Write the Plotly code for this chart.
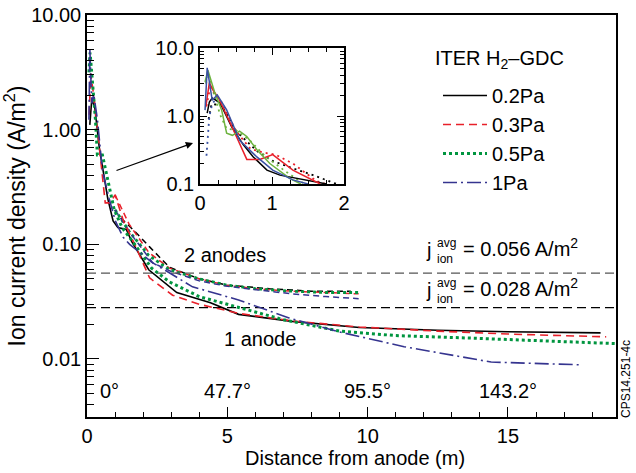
import plotly.graph_objects as go

# ---------------- data ----------------
pressures = ["0.2Pa", "0.3Pa", "0.5Pa", "1Pa"]

# main plot, 1 anode
x_a1_black = [0.10, 0.17, 0.28, 0.44, 0.74, 0.93, 1.1, 1.4, 1.6, 2.2, 3.2, 4.4, 5.4, 7.3, 9.7, 12.5, 15.0, 18.3]
y_a1_black = [1.1, 1.84, 1.55, 0.69, 0.25, 0.16, 0.14, 0.135, 0.105, 0.060, 0.038, 0.031, 0.0245, 0.0213, 0.0188, 0.0178, 0.0173, 0.0169]
x_a1_red = [0.08, 0.13, 0.25, 0.42, 0.65, 0.83, 1.0, 1.3, 1.7, 2.23, 3.05, 4.0, 5.4, 7.3, 9.7, 12.5, 15.0, 18.5]
y_a1_red = [1.35, 3.1, 1.9, 0.79, 0.23, 0.23, 0.27, 0.16, 0.10, 0.051, 0.036, 0.030, 0.025, 0.0215, 0.019, 0.0175, 0.0165, 0.0156]
x_a1_green = [0.07, 0.11, 0.3, 0.37, 0.55, 0.79, 0.97, 1.25, 1.7, 2.3, 2.94, 4.0, 5.4, 7.0, 9.0, 11.0, 13.7, 16.0, 18.9]
y_a1_green = [3.16, 4.7, 1.23, 0.6, 0.6, 0.32, 0.2, 0.14, 0.1, 0.062, 0.047, 0.035, 0.028, 0.022, 0.0175, 0.016, 0.0152, 0.0144, 0.0136]
x_a1_blue = [0.07, 0.10, 0.17, 0.24, 0.37, 0.55, 0.79, 1.01, 1.29, 1.52, 2.3, 3.76, 5.4, 7.2, 9.0, 11.3, 14.4, 17.55]
y_a1_blue = [1.22, 5.1, 1.7, 2.04, 1.23, 0.44, 0.25, 0.16, 0.115, 0.10, 0.07, 0.0426, 0.0327, 0.0228, 0.0172, 0.0128, 0.0094, 0.0089]

# main plot, 2 anodes
x_a2_black = [1.2, 1.7, 2.23, 2.94, 4.0, 5.0, 6.5, 8.0, 9.4]
y_a2_black = [0.17, 0.13, 0.095, 0.063, 0.05, 0.044, 0.041, 0.039, 0.039]
x_a2_red = [1.0, 1.5, 2.2, 2.94, 4.0, 4.96, 6.0, 7.3, 8.5, 9.68]
y_a2_red = [0.27, 0.15, 0.085, 0.062, 0.05, 0.044, 0.041, 0.039, 0.038, 0.037]
x_a2_green = [1.0, 1.5, 2.2, 2.94, 4.0, 5.0, 6.0, 7.3, 8.5, 9.68]
y_a2_green = [0.2, 0.13, 0.08, 0.06, 0.05, 0.044, 0.041, 0.039, 0.038, 0.038]
x_a2_blue = [1.0, 1.6, 2.34, 3.0, 4.0, 5.0, 6.1, 7.3, 8.5, 9.68]
y_a2_blue = [0.2, 0.12, 0.069, 0.058, 0.048, 0.043, 0.040, 0.037, 0.035, 0.0336]

# average current density levels
j_avg_levels = [0.056, 0.028]
j_avg_labels = ["0.056", "0.028"]

# inset, solid
ins_x_black = [0.10, 0.13, 0.17, 0.28, 0.44, 0.6, 0.74, 0.93, 1.11, 1.43, 1.76]
ins_y_black = [1.1, 1.6, 1.84, 1.55, 0.69, 0.38, 0.25, 0.16, 0.135, 0.115, 0.1]
ins_x_red = [0.08, 0.13, 0.18, 0.25, 0.42, 0.55, 0.65, 0.83, 1.01, 1.29, 1.67]
ins_y_red = [1.35, 3.1, 2.4, 1.9, 0.79, 0.4, 0.23, 0.23, 0.27, 0.16, 0.1]
ins_x_green = [0.07, 0.11, 0.2, 0.3, 0.37, 0.45, 0.55, 0.65, 0.79, 0.97, 1.25, 1.4]
ins_y_green = [3.16, 4.7, 2.3, 1.23, 0.56, 0.52, 0.6, 0.5, 0.32, 0.2, 0.12, 0.1]
ins_x_blue = [0.07, 0.10, 0.17, 0.24, 0.37, 0.55, 0.79, 1.01, 1.29, 1.5]
ins_y_blue = [1.22, 5.1, 1.7, 2.04, 1.23, 0.44, 0.25, 0.16, 0.115, 0.1]

# inset, dotted
ins_xd_black = [0.12, 0.16, 0.3, 0.5, 0.8, 1.0, 1.29, 1.57, 1.9]
ins_yd_black = [0.9, 1.5, 1.45, 0.6, 0.3, 0.22, 0.17, 0.135, 0.1]
ins_xd_red = [0.09, 0.14, 0.3, 0.5, 0.7, 0.88, 1.05, 1.29, 1.62, 1.75]
ins_yd_red = [1.4, 2.6, 1.6, 0.6, 0.33, 0.29, 0.27, 0.2, 0.11, 0.1]
ins_xd_green = [0.08, 0.12, 0.2, 0.28, 0.37, 0.5, 0.69, 0.9, 1.2, 1.45]
ins_yd_green = [3.0, 3.8, 2.0, 1.04, 0.65, 0.62, 0.44, 0.26, 0.15, 0.1]
ins_xd_blue = [0.09, 0.11, 0.13, 0.17, 0.24, 0.37]
ins_yd_blue = [0.26, 0.6, 1.0, 1.5, 1.9, 1.2]

angle_labels = ["0°", "47.7°", "95.5°", "143.2°"]
angle_x = [0.8, 5, 10, 15]

main_yticks = [0.01, 0.1, 1, 10]
main_yticktext = ["0.01", "0.10", "1.00", "10.00"]
inset_yticks = [0.1, 1, 10]
inset_yticktext = ["0.1", "1.0", "10.0"]

# ---------------- styles ----------------
FONT = "Liberation Sans, Arial, sans-serif"
C_BLACK, C_RED, C_GREEN, C_BLUE = "#000000", "#e8202a", "#00953f", "#35348f"
CI_GREEN, CI_BLUE = "#6db33f", "#3a52a3"
styles = [
    dict(color=C_BLACK, width=1.6, dash="solid"),
    dict(color=C_RED, width=1.6, dash="8px,5px"),
    dict(color=C_GREEN, width=3, dash="3px,3px"),
    dict(color=C_BLUE, width=1.6, dash="14px,4px,2px,4px"),
]
a2_styles = [
    dict(color=C_BLACK, width=1.5, dash="6px,4px"),
    dict(color=C_RED, width=1.5, dash="6px,4px"),
    dict(color=C_GREEN, width=2.8, dash="3px,3px"),
    dict(color=C_BLUE, width=1.5, dash="6px,4px"),
]

fig = go.Figure()

a1 = [(x_a1_black, y_a1_black), (x_a1_red, y_a1_red), (x_a1_green, y_a1_green), (x_a1_blue, y_a1_blue)]
a2 = [(x_a2_black, y_a2_black), (x_a2_red, y_a2_red), (x_a2_green, y_a2_green), (x_a2_blue, y_a2_blue)]

for i, (xs, ys) in enumerate(a2):
    fig.add_trace(go.Scatter(x=xs, y=ys, mode="lines", line=a2_styles[i], showlegend=False, hoverinfo="skip"))

for (lvl, col) in zip(j_avg_levels, ["#555555", "#000000"]):
    fig.add_trace(go.Scatter(x=[0, 18.8], y=[lvl, lvl], mode="lines",
                             line=dict(color=col, width=1.2, dash="9px,5px"),
                             showlegend=False, hoverinfo="skip"))

for i, (xs, ys) in enumerate(a1):
    fig.add_trace(go.Scatter(x=xs, y=ys, mode="lines", line=styles[i], name=pressures[i],
                             showlegend=True))

ins_solid = [(ins_x_black, ins_y_black, C_BLACK), (ins_x_red, ins_y_red, C_RED),
             (ins_x_green, ins_y_green, CI_GREEN), (ins_x_blue, ins_y_blue, CI_BLUE)]
ins_dot = [(ins_xd_black, ins_yd_black, C_BLACK), (ins_xd_red, ins_yd_red, C_RED),
           (ins_xd_green, ins_yd_green, CI_GREEN), (ins_xd_blue, ins_yd_blue, CI_BLUE)]
for xs, ys, c in ins_dot:
    fig.add_trace(go.Scatter(x=xs, y=ys, mode="lines", xaxis="x2", yaxis="y2",
                             line=dict(color=c, width=1.8, dash="2px,4px"), showlegend=False, hoverinfo="skip"))
for xs, ys, c in ins_solid:
    fig.add_trace(go.Scatter(x=xs, y=ys, mode="lines", xaxis="x2", yaxis="y2",
                             line=dict(color=c, width=1.5), showlegend=False, hoverinfo="skip"))

# minor tick positions
main_minor = [m * 10 ** e for e in range(-3, 1) for m in range(2, 10)]
main_minor = [v for v in main_minor if 0.0031 <= v <= 10]
inset_minor = [m * 10 ** e for e in range(-1, 1) for m in range(2, 10)]

W, H = 636, 473
L, R, T, B = 87, 20, 15, 56
PW, PH = W - L - R, H - T - B


def px(xp):
    return (xp - L) / PW


def py(yp):
    return (H - B - yp) / PH


tickfont = dict(family=FONT, size=20, color="black")

fig.update_layout(
    width=W, height=H, autosize=False,
    margin=dict(l=L, r=R, t=T, b=B, autoexpand=False),
    paper_bgcolor="white", plot_bgcolor="white",
    font=dict(family=FONT, size=20, color="black"),
    xaxis=dict(range=[0, 18.85], showgrid=False, zeroline=False, automargin=False,
               showline=True, linecolor="black", linewidth=1.5, mirror=True,
               ticks="inside", ticklen=10, tickwidth=1.2, tickcolor="black",
               tickvals=[0, 5, 10, 15], tickfont=tickfont,
               minor=dict(ticks="inside", ticklen=5, tickwidth=1, tickcolor="black", dtick=1)),
    yaxis=dict(type="log", range=[-2.506, 1.0], showgrid=False, zeroline=False, automargin=False,
               showline=True, linecolor="black", linewidth=1.5, mirror=True,
               ticks="inside", ticklen=12, tickwidth=1.2, tickcolor="black",
               tickvals=main_yticks, ticktext=main_yticktext, tickfont=tickfont,
               minor=dict(ticks="inside", ticklen=7, tickwidth=1, tickcolor="black", tickvals=main_minor),
               title=dict(text="Ion current density (A/m<sup>2</sup>)", font=dict(family=FONT, size=23), standoff=6)),
    xaxis2=dict(domain=[px(200), px(344)], anchor="y2", range=[0, 2], showgrid=False, zeroline=False,
                showline=True, linecolor="black", linewidth=1.5, mirror="ticks",
                ticks="inside", ticklen=7, tickwidth=1.2, tickcolor="black",
                tickvals=[0, 1, 2], tickfont=tickfont,
                minor=dict(ticks="inside", ticklen=4, tickwidth=1, tickcolor="black", dtick=0.25)),
    yaxis2=dict(domain=[py(184), py(48)], anchor="x2", type="log", range=[-1, 1], showgrid=False, zeroline=False,
                showline=True, linecolor="black", linewidth=1.5, mirror="ticks",
                ticks="inside", ticklen=7, tickwidth=1.2, tickcolor="black",
                tickvals=inset_yticks, ticktext=inset_yticktext, tickfont=tickfont,
                minor=dict(ticks="inside", ticklen=4, tickwidth=1, tickcolor="black", tickvals=inset_minor)),
    legend=dict(x=px(438), y=py(76), xanchor="left", yanchor="top",
                bgcolor="rgba(0,0,0,0)", borderwidth=0,
                font=dict(family=FONT, size=20), itemwidth=44,
                traceorder="normal", tracegroupgap=0),
    showlegend=True,
)

ann = []
ann.append(dict(text="Distance from anode (m)", x=px(355), y=py(458), xanchor="center", yanchor="middle",
                font=dict(size=20)))
ann.append(dict(text="ITER H<sub>2</sub>–GDC", x=px(433), y=py(60), xanchor="left", yanchor="middle",
                font=dict(size=20)))
ann.append(dict(text="2 anodes", x=px(225), y=py(255), xanchor="center", yanchor="middle", font=dict(size=20)))
ann.append(dict(text="1 anode", x=px(260), y=py(339), xanchor="center", yanchor="middle", font=dict(size=20)))
for lab, xv in zip(angle_labels, angle_x):
    ann.append(dict(text=lab, x=xv, xref="x", y=py(391), yref="paper", xanchor="center", yanchor="middle",
                    showarrow=False, font=dict(family=FONT, size=20, color="black")))
for k, lab in enumerate(j_avg_labels):
    dy = 40 * k
    ann.append(dict(text="j", x=px(424), y=py(250 + dy), xanchor="left", yanchor="middle", font=dict(size=20)))
    ann.append(dict(text="avg", x=px(435), y=py(243 + dy), xanchor="left", yanchor="middle", font=dict(size=12)))
    ann.append(dict(text="ion", x=px(435), y=py(259 + dy), xanchor="left", yanchor="middle", font=dict(size=12)))
    ann.append(dict(text="= " + lab + " A/m<sup>2</sup>", x=px(461), y=py(247 + dy), xanchor="left",
                    yanchor="middle", font=dict(size=20)))
ann.append(dict(text="CPS14.251-4c", x=px(626), y=py(379), xanchor="center", yanchor="middle",
                textangle=-90, font=dict(size=12)))

for a in ann:
    a.setdefault("xref", "paper")
    a.setdefault("yref", "paper")
    a.setdefault("showarrow", False)
    f = a.get("font", {})
    f.setdefault("family", FONT)
    f.setdefault("color", "black")
    a["font"] = f
    fig.add_annotation(**a)

# arrow pointing to inset
fig.add_annotation(x=px(193), y=py(143), xref="paper", yref="paper", ax=-78, ay=28,
                   showarrow=True, arrowhead=2, arrowsize=1.2, arrowwidth=1.2, arrowcolor="black", text="")

fig.write_html("out.html")
